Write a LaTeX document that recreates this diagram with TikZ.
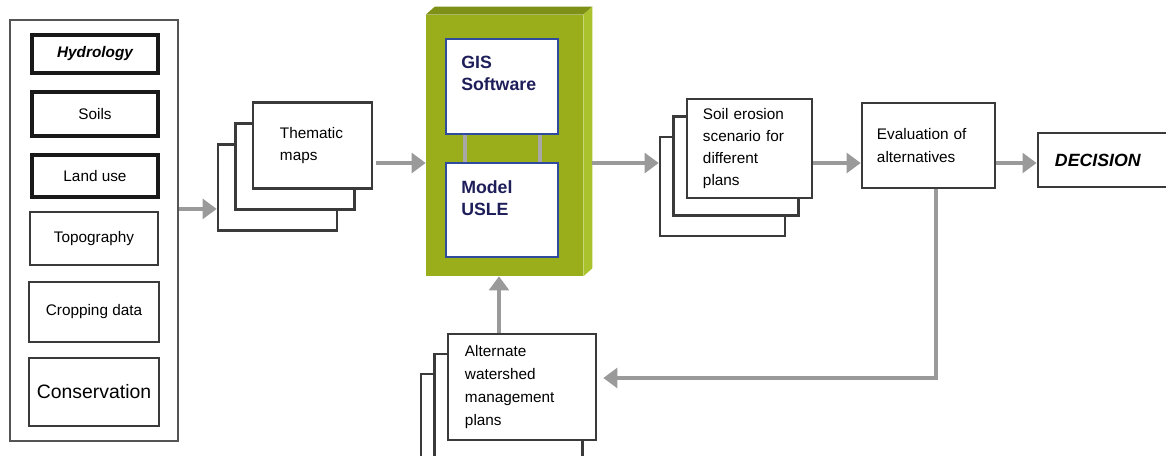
\documentclass[tikz,border=0pt]{standalone}
\usepackage{fontspec}
\setmainfont{Liberation Sans}
\usepackage{tikz}
\usetikzlibrary{arrows.meta, positioning}
\usepackage{xcolor}
\definecolor{sheetLine}{HTML}{3A3A3A}
\definecolor{frameGray}{HTML}{555555}
\definecolor{flowGray}{HTML}{9A9A9A}
\definecolor{linkGray}{HTML}{A8A8A8}
\definecolor{oliveFront}{HTML}{9AAE1B}
\definecolor{oliveTop}{HTML}{7E9015}
\definecolor{oliveSide}{HTML}{AAC22C}
\definecolor{gisBlue}{HTML}{2F4B9E}
\definecolor{gisNavy}{HTML}{1E1E5A}

\newcommand{\boxfont}{\fontsize{10.9}{15.8}\selectfont}
\newcommand{\bigboxfont}{\fontsize{13.8}{16}\selectfont}
\newcommand{\headfont}{\fontsize{12.6}{15.8}\selectfont\bfseries}

\begin{document}
\begin{tikzpicture}[x=0.025cm, y=-0.025cm,
    frame/.style={draw=frameGray, line width=1.4pt},
    itembox/.style={draw=sheetLine, line width=1.5pt, font=\boxfont, align=center},
    keyitem/.style={itembox, draw=black!90, line width=2.2pt},
    layer/.style={draw=sheetLine, line width=1.8pt, fill=white},
    sheet/.style={layer, align=left, font=\boxfont, inner ysep=0pt},
    gisbox/.style={draw=gisBlue, line width=1.4pt, fill=white},
    gislabel/.style={anchor=north west, align=left, inner sep=0pt, xshift=0.4cm, yshift=-0.45cm, font=\headfont, text=gisNavy},
    link/.style={draw=linkGray, line width=2.2pt},
    flow/.style={-{Triangle[length=10pt, width=14pt]}, draw=flowGray, line width=3.2pt}]
  \useasboundingbox (0,0) rectangle (1166,455);
  \fill[white] (0,0) rectangle (1166,455);
  \clip (0,0) rectangle (1166,455);

  % input data layers
  \node[frame, minimum width=4.2cm, minimum height=10.525cm] (inputs) at (94,230.5) {};
  \node[keyitem, minimum width=3.15cm, minimum height=0.95cm, font=\boxfont\bfseries\itshape] (hydro) at (95,54) {Hydrology};
  \node[keyitem, minimum width=3.15cm, minimum height=1.1cm] (soils) at (95,114) {Soils};
  \node[keyitem, minimum width=3.15cm, minimum height=1.05cm] (landuse) at (95,176) {Land use};
  \node[itembox, minimum width=3.2cm, minimum height=1.325cm] (topo) at (94,238.5) {Topography};
  \node[itembox, minimum width=3.25cm, minimum height=1.5cm] (crop) at (94,312) {Cropping data};
  \node[itembox, minimum width=3.25cm, minimum height=1.7cm, font=\bigboxfont] (conserv) at (94,392) {Conservation};

  % thematic maps (stack of sheets)
  \coordinate (themc) at (312.5,145.5);
  \foreach \k in {2,1}
    \node[layer, minimum width=2.975cm, minimum height=2.15cm] (them-\k) at ([shift={(-17.5*\k,21*\k)}]themc) {};
  \node[sheet, text width=1.625cm, inner xsep=0.675cm, minimum height=2.15cm] (them) at (themc) {Thematic\\maps};

  % GIS + USLE block
  \node[fill=oliveFront, minimum width=3.925cm, minimum height=6.525cm] (engine) at (504.5,145.5) {};
  \fill[oliveTop] (engine.north west) -- ++(9,-8) -- ([shift={(9,-8)}]engine.north east) -- (engine.north east) -- cycle;
  \fill[oliveSide] (engine.north east) -- ++(9,-8) -- ([shift={(9,-8)}]engine.south east) -- (engine.south east) -- cycle;
  \node[gisbox, minimum width=2.8cm, minimum height=2.375cm, label={[gislabel]north west:GIS\\Software}] (gis) at (502,86.5) {};
  \node[gisbox, minimum width=2.8cm, minimum height=2.35cm, label={[gislabel]north west:Model\\USLE}] (usle) at (502,210) {};
  \draw[link] ([xshift=0.5cm]gis.south west) -- ([xshift=0.5cm]usle.north west);
  \draw[link] ([xshift=-0.475cm]gis.south east) -- ([xshift=-0.475cm]usle.north east);

  % erosion scenarios
  \coordinate (soilc) at (749.5,145.5);
  \foreach \k in {2,1}
    \node[layer, minimum width=3.125cm, minimum height=2.475cm] (soil-\k) at ([shift={(-13.5*\k,20.5*\k)}]soilc) {};
  \node[sheet, text width=2.325cm, inner xsep=0.4cm, minimum height=2.475cm] (soil) at ([yshift=-0.08cm]soilc) {Soil erosion\\scenario for\\different\\plans};

  \node[sheet, text width=2.575cm, inner xsep=0.375cm, minimum height=2.125cm] (eval) at (928.5,145.5) {Evaluation of\\alternatives};
  \node[sheet, line width=2pt, text width=2.575cm, inner xsep=0.425cm, minimum height=1.35cm, font=\headfont\itshape] (decision) at (1106.5,160) {DECISION};

  % alternate plans (stack of sheets)
  \coordinate (altc) at (522,387);
  \foreach \k in {2,1}
    \node[layer, minimum width=3.7cm, minimum height=2.65cm] (alt-\k) at ([shift={(-13.5*\k,20*\k)}]altc) {};
  \node[sheet, text width=2.85cm, inner xsep=0.425cm, minimum height=2.65cm, font=\fontsize{10.9}{16.4}\selectfont] (alt) at (altc) {Alternate\\watershed\\management\\plans};

  % flow arrows
  \coordinate (flowrow) at (0,163);
  \draw[flow] ([yshift=0.54cm]inputs.east) -- ([yshift=0.54cm]inputs.east -| them-2.west);
  \draw[flow] ([xshift=0.075cm]them.east |- flowrow) -- (engine.west |- flowrow);
  \draw[flow] ([xshift=0.225cm]engine.east |- flowrow) -- (soil-2.west |- flowrow);
  \draw[flow] (soil.east |- flowrow) -- (eval.west |- flowrow);
  \draw[flow] (eval.east |- flowrow) -- (decision.west |- flowrow);
  \draw[flow] ([xshift=0.1875cm]eval.south) |- ([shift={(0.15cm,0.225cm)}]alt.east);
  \draw[flow] ([xshift=-0.575cm]alt.north) -- ([xshift=-0.575cm]alt.north |- engine.south);
\end{tikzpicture}
\end{document}
